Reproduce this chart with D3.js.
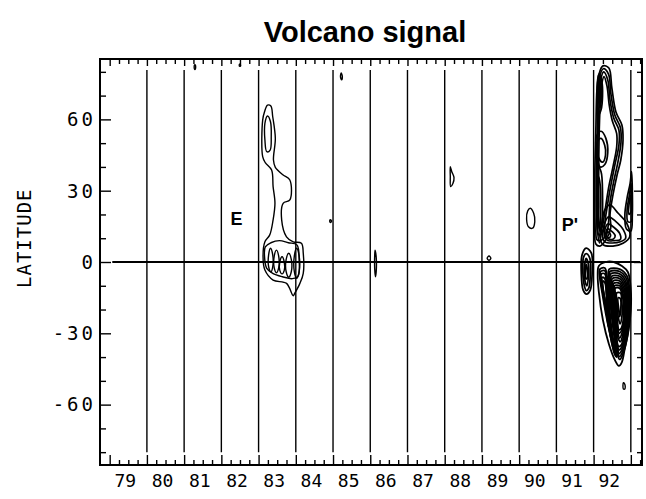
<!DOCTYPE html>
<html>
<head>
<meta charset="utf-8">
<script src="https://cdn.jsdelivr.net/npm/d3@7"></script>
<style>
  html, body { margin: 0; padding: 0; background: #fff; }
  svg { display: block; }
  .mono { font-family: "DejaVu Sans Mono", "Liberation Mono", monospace; fill: #000; }
</style>
</head>
<body>
<svg id="chart" width="646" height="499"></svg>
<script>
// ---- chart text ----
const chartTitle = "Volcano signal";
const yAxisTitle = "LATITUDE";

// ---- axes ----
const yearTicks = [1979, 1980, 1981, 1982, 1983, 1984, 1985, 1986, 1987, 1988, 1989, 1990, 1991, 1992, 1993];
const yearLabels = ["79", "80", "81", "82", "83", "84", "85", "86", "87", "88", "89", "90", "91", "92"];
const yearLines = [1980, 1981, 1982, 1983, 1984, 1985, 1986, 1987, 1988, 1989, 1990, 1991, 1992, 1993];
const latMajor = [60, 30, 0, -30, -60];
const latLabels = ["60", "30", "0", "-30", "-60"];
const latMinor = [80, 70, 50, 40, 20, 10, -10, -20, -40, -50, -70, -80];

// ---- eruption markers ----
const eruptionNames = ["E", "P'"];
const eruptionYears = [1982.41, 1991.36];
const eruptionLats = [18.5, 15.6];

// ---- contour lines, [year, latitude] ----
// El Chichon plume
const elChichon = [
  [[1983.24,66.0],[1983.33,65.6],[1983.38,61.1],[1983.45,52.0],[1983.40,42.9],[1983.45,39.8],[1983.66,36.6],
   [1983.84,34.5],[1983.84,26.1],[1983.66,24.7],[1983.62,17.7],[1983.75,10.6],[1983.93,8.5],[1984.15,7.9],
   [1984.20,3.7],[1984.20,-4.8],[1984.11,-9.0],[1983.97,-13.2],[1983.93,-14.2],[1983.75,-9.0],[1983.39,-7.6],
   [1983.17,-3.4],[1983.12,2.2],[1983.17,8.5],[1983.30,11.4],[1983.39,17.7],[1983.44,24.7],[1983.39,31.7],
   [1983.35,38.7],[1983.18,41.8],[1983.11,44.3],[1983.11,59.7],[1983.16,63.2]],
  [[1983.24,61.4],[1983.32,59.0],[1983.34,52.7],[1983.31,47.1],[1983.22,46.4],[1983.17,51.3],[1983.17,58.3]],
  [[1983.18,6.4],[1983.33,8.1],[1983.56,9.0],[1983.80,8.1],[1984.03,7.2],[1984.09,0.8],[1984.06,-5.9],
   [1983.91,-7.0],[1983.64,-6.2],[1983.38,-4.8],[1983.22,-2.7],[1983.16,2.2]],
  [[1983.32,5.8],[1983.38,3.0],[1983.38,-2.0],[1983.33,-4.1],[1983.27,-2.0],[1983.27,3.0]],
  [[1983.48,5.0],[1983.54,2.5],[1983.54,-2.5],[1983.48,-4.5],[1983.42,-2.5],[1983.42,2.5]],
  [[1983.63,2.2],[1983.69,0.0],[1983.69,-3.5],[1983.63,-5.0],[1983.57,-3.5],[1983.57,0.0]],
  [[1983.81,3.7],[1983.88,1.0],[1983.88,-4.0],[1983.81,-6.4],[1983.74,-4.0],[1983.74,1.0]],
  [[1984.02,5.8],[1984.09,2.5],[1984.09,-4.0],[1984.02,-6.9],[1983.96,-4.0],[1983.96,2.5]]
];

// isolated small cells
const smallCells = [
  [[1981.29,83.0],[1981.31,82.0],[1981.29,81.0],[1981.27,82.0]],
  [[1982.50,83.3],[1982.52,82.8],[1982.50,82.3],[1982.48,82.8]],
  [[1984.93,17.8],[1984.96,17.2],[1984.93,16.6],[1984.91,17.2]],
  [[1985.22,79.5],[1985.25,78.0],[1985.23,76.6],[1985.20,78.0]],
  [[1986.13,5.0],[1986.16,2.0],[1986.16,-4.0],[1986.14,-6.2],[1986.12,-3.0],[1986.12,3.0]],
  [[1988.15,40.1],[1988.19,38.0],[1988.25,35.5],[1988.22,33.0],[1988.16,31.7],[1988.15,36.0]],
  [[1989.19,2.5],[1989.24,1.6],[1989.19,0.7],[1989.14,1.6]],
  [[1990.30,22.6],[1990.39,20.5],[1990.42,17.0],[1990.36,14.2],[1990.25,14.8],[1990.20,18.0],[1990.23,21.5]],
  [[1992.80,-50.8],[1992.84,-51.5],[1992.84,-53.4],[1992.80,-53.4]]
];

// Pinatubo, northern column
const pinatuboNorth = [
  [[1992.25,82.5],[1992.41,81.6],[1992.49,73.2],[1992.60,63.1],[1992.76,57.6],[1992.79,51.3],[1992.73,42.9],
   [1992.63,36.6],[1992.52,28.2],[1992.44,19.8],[1992.46,14.3],[1992.33,9.3],[1992.17,6.7],[1992.06,7.6],
   [1992.03,17.7],[1992.03,34.5],[1992.06,55.5],[1992.09,72.4],[1992.14,78.7]],
  [[1992.26,81.3],[1992.40,79.0],[1992.465,70.7],[1992.57,61.8],[1992.72,56.5],[1992.735,50.2],[1992.65,41.8],
   [1992.535,33.5],[1992.44,25.0],[1992.40,16.5],[1992.33,11.0],[1992.16,9.0],[1992.085,9.5],[1992.07,19.0],
   [1992.07,35.0],[1992.10,55.5],[1992.115,72.4],[1992.16,78.0]],
  [[1992.27,80.0],[1992.38,76.6],[1992.44,68.2],[1992.54,60.6],[1992.68,55.5],[1992.68,49.2],[1992.57,40.8],
   [1992.44,30.3],[1992.33,19.8],[1992.25,12.6],[1992.14,11.4],[1992.11,21.9],[1992.11,42.9],[1992.14,63.9],
   [1992.19,76.6]],
  [[1992.28,78.0],[1992.36,74.0],[1992.42,66.0],[1992.50,59.5],[1992.62,54.0],[1992.62,48.5],[1992.52,40.0],
   [1992.40,31.0],[1992.30,21.0],[1992.22,14.5],[1992.16,14.0],[1992.14,25.0],[1992.14,45.0],[1992.17,64.0],
   [1992.22,75.0]],
  [[1992.14,79.0],[1992.22,76.0],[1992.24,70.0],[1992.20,64.0],[1992.14,62.0],[1992.10,68.0],[1992.10,75.0]],
  [[1992.15,77.0],[1992.20,74.0],[1992.21,69.0],[1992.17,65.0],[1992.13,69.0],[1992.13,74.0]],
  [[1992.16,75.0],[1992.18,71.0],[1992.16,67.0],[1992.145,71.0]],
  [[1992.08,53.0],[1992.20,55.0],[1992.33,52.0],[1992.38,46.0],[1992.30,41.0],[1992.18,40.0],[1992.09,45.0]],
  [[1992.11,51.0],[1992.20,52.0],[1992.30,49.0],[1992.32,45.0],[1992.24,42.0],[1992.13,44.0]],
  [[1992.12,40.0],[1992.20,38.0],[1992.24,28.0],[1992.22,15.0],[1992.16,8.0],[1992.10,14.0],[1992.09,28.0]],
  [[1992.13,36.0],[1992.18,32.0],[1992.19,22.0],[1992.16,13.0],[1992.12,20.0],[1992.11,30.0]],
  [[1993.02,38.0],[1993.04,30.0],[1993.04,20.0],[1993.00,13.0],[1992.88,14.0],[1992.84,20.0],[1992.90,27.0],[1992.98,33.0]],
  [[1993.01,33.0],[1993.02,25.0],[1993.01,17.0],[1992.92,17.0],[1992.90,22.0],[1992.96,28.0]],
  [[1993.00,28.0],[1993.00,21.0],[1992.95,20.0],[1992.95,24.0]],
  [[1992.44,24.0],[1992.66,20.5],[1992.89,16.3],[1992.97,10.6],[1992.79,7.9],[1992.52,6.7],[1992.26,7.2],
   [1992.17,10.6],[1992.22,16.3],[1992.30,21.9]],
  [[1992.40,19.0],[1992.60,17.0],[1992.80,13.5],[1992.86,10.0],[1992.72,8.5],[1992.50,8.0],[1992.30,8.5],
   [1992.24,11.0],[1992.28,15.5]],
  [[1992.38,16.0],[1992.55,14.5],[1992.70,12.0],[1992.72,9.5],[1992.55,9.0],[1992.38,9.0],[1992.29,11.0],[1992.31,14.0]],
  [[1992.37,14.0],[1992.48,13.0],[1992.58,11.0],[1992.52,9.6],[1992.40,9.8],[1992.33,11.5]],
  [[1992.37,12.6],[1992.44,12.0],[1992.45,10.6],[1992.38,10.3],[1992.345,11.5]]
];

// Pinatubo, equatorial cell
const pinatuboEquator = [
  [[1991.80,5.8],[1991.94,3.7],[1991.96,-4.8],[1991.91,-11.8],[1991.81,-13.5],[1991.72,-11.8],[1991.67,-4.8],[1991.69,2.9]],
  [[1991.80,3.5],[1991.90,1.5],[1991.91,-5.0],[1991.87,-11.0],[1991.80,-12.0],[1991.74,-9.0],[1991.71,-3.0],[1991.73,2.0]],
  [[1991.80,1.5],[1991.86,-1.0],[1991.86,-6.0],[1991.82,-10.0],[1991.77,-8.0],[1991.75,-3.0]],
  [[1991.80,-1.0],[1991.83,-3.0],[1991.82,-7.0],[1991.79,-7.0],[1991.78,-3.0]]
];

// Pinatubo, southern column
const pinatuboSouth = [
  [[1992.14,-1.7],[1992.33,0.0],[1992.54,0.0],[1992.76,-1.7],[1992.92,-4.2],[1993.00,-11.8],[1993.00,-20.2],
   [1992.94,-28.6],[1992.84,-36.2],[1992.76,-42.1],[1992.68,-43.7],[1992.57,-41.2],[1992.41,-34.5],
   [1992.25,-24.4],[1992.14,-12.6],[1992.11,-5.5]],
  [[1992.42,-3],[1992.70,-3],[1992.90,-6],[1992.97,-14],[1992.96,-24],[1992.90,-32],[1992.78,-39],[1992.70,-41],
   [1992.62,-38],[1992.55,-31],[1992.48,-22],[1992.43,-14],[1992.40,-7]],
  [[1992.44,-4],[1992.70,-4],[1992.88,-7],[1992.95,-14.5],[1992.94,-24],[1992.88,-31.5],[1992.77,-38],[1992.695,-39.8],
   [1992.625,-36.5],[1992.56,-30],[1992.495,-21.5],[1992.45,-13.5],[1992.42,-7]],
  [[1992.46,-5],[1992.70,-5],[1992.86,-8],[1992.93,-15],[1992.92,-24],[1992.86,-31],[1992.76,-37],[1992.69,-38.5],
   [1992.63,-35],[1992.57,-29],[1992.51,-21],[1992.47,-13]],
  [[1992.48,-6],[1992.70,-6],[1992.845,-9],[1992.91,-15.5],[1992.90,-24],[1992.84,-30.5],[1992.75,-36],[1992.68,-37],
   [1992.62,-33],[1992.565,-26],[1992.515,-18],[1992.49,-11]],
  [[1992.50,-7],[1992.70,-7],[1992.83,-10],[1992.89,-16],[1992.88,-24],[1992.82,-30],[1992.74,-35],[1992.67,-35.5],
   [1992.61,-31],[1992.56,-23],[1992.52,-15]],
  [[1992.52,-8],[1992.70,-8],[1992.815,-11],[1992.87,-16.5],[1992.86,-24],[1992.80,-29.5],[1992.72,-33.5],[1992.655,-32],
   [1992.60,-26.5],[1992.57,-19],[1992.54,-12]],
  [[1992.54,-9],[1992.70,-9],[1992.80,-12],[1992.85,-17],[1992.84,-24],[1992.78,-29],[1992.70,-32],[1992.64,-29],
   [1992.59,-22],[1992.56,-15]],
  [[1992.56,-10],[1992.70,-10],[1992.785,-13],[1992.83,-17.5],[1992.82,-24],[1992.76,-28.5],[1992.69,-30],[1992.635,-26],
   [1992.595,-19],[1992.58,-13]],
  [[1992.58,-11],[1992.70,-11],[1992.77,-14],[1992.81,-18],[1992.80,-24],[1992.74,-28],[1992.68,-28.5],[1992.63,-23],[1992.60,-16]],
  [[1992.62,-13],[1992.72,-13],[1992.76,-17],[1992.76,-23],[1992.71,-26],[1992.66,-23],[1992.63,-17]],
  [[1992.66,-15],[1992.72,-15.5],[1992.73,-20],[1992.70,-23],[1992.675,-20]],
  [[1992.17,-3],[1992.30,-2.5],[1992.36,-6],[1992.41,-15],[1992.46,-25],[1992.53,-33],[1992.62,-40],[1992.57,-39],
   [1992.45,-31],[1992.33,-22],[1992.23,-13],[1992.17,-7]],
  [[1992.19,-4],[1992.30,-3.7],[1992.355,-8],[1992.40,-16.5],[1992.45,-26],[1992.525,-33.5],[1992.595,-39.5],[1992.51,-35.5],
   [1992.41,-27.5],[1992.31,-18.5],[1992.225,-11],[1992.19,-7.5]],
  [[1992.21,-5],[1992.30,-5],[1992.35,-10],[1992.39,-18],[1992.44,-27],[1992.52,-34],[1992.47,-32],[1992.38,-24],
   [1992.29,-15],[1992.22,-9]],
  [[1992.23,-6.5],[1992.30,-7],[1992.35,-13],[1992.395,-21],[1992.44,-28],[1992.40,-27],[1992.34,-20],[1992.27,-13],
   [1992.235,-9.5]],
  [[1992.25,-8],[1992.31,-9],[1992.35,-16],[1992.40,-24],[1992.44,-29],[1992.39,-25],[1992.31,-17],[1992.26,-12]]
];

// ---- layout ----
const svg = d3.select("#chart");
const frame = { left: 100, right: 642, top: 59, bottom: 465 };

const x = d3.scaleLinear().domain([1978.74, 1993.30]).range([frame.left, frame.right]);
const y = d3.scaleLinear().domain([-85.4, 85.4]).range([frame.bottom, frame.top]);

// title
svg.append("text")
  .attr("x", 365).attr("y", 42)
  .attr("text-anchor", "middle")
  .style("font-family", "'Liberation Sans', Arial, Helvetica, sans-serif")
  .style("font-weight", "bold")
  .style("font-size", "29px")
  .text(chartTitle);

// year separator lines
svg.append("g").selectAll("line").data(yearLines).join("line")
  .attr("x1", d => x(d)).attr("x2", d => x(d))
  .attr("y1", y(80.8)).attr("y2", y(-80))
  .attr("stroke", "#000").attr("stroke-width", 1.4);

// equator
svg.append("line")
  .attr("x1", x(1979.07)).attr("x2", x(1993.25))
  .attr("y1", y(0)).attr("y2", y(0))
  .attr("stroke", "#000").attr("stroke-width", 2.2);

// contours
const contourLine = d3.line()
  .x(d => x(d[0])).y(d => y(d[1]))
  .curve(d3.curveCatmullRomClosed.alpha(0.5));

const contourGroups = [
  { lines: elChichon, width: 1.4 },
  { lines: smallCells, width: 1.4 },
  { lines: pinatuboNorth, width: 1.7 },
  { lines: pinatuboEquator, width: 1.8 },
  { lines: pinatuboSouth, width: 1.8 }
];
const gC = svg.append("g").attr("fill", "none").attr("stroke", "#000").attr("stroke-linejoin", "round");
contourGroups.forEach(group => {
  gC.append("g").attr("stroke-width", group.width)
    .selectAll("path").data(group.lines).join("path").attr("d", contourLine);
});

// frame ticks via d3 axes (ticks point inward)
function tickAxis(axisFn, scale, values, size, transform) {
  const g = svg.append("g").attr("transform", transform)
    .call(axisFn(scale).tickValues(values).tickSize(size).tickFormat(""));
  g.select(".domain").remove();
  g.selectAll("line").attr("stroke", "#000").attr("stroke-width", 1.4);
  return g;
}
const quarterTicks = d3.range(1979, 1993.3, 0.25).filter(v => !yearTicks.includes(v));

tickAxis(d3.axisBottom, x, yearTicks, -10, `translate(0,${frame.bottom})`);
tickAxis(d3.axisBottom, x, quarterTicks, -5, `translate(0,${frame.bottom})`);
tickAxis(d3.axisTop, x, yearTicks, -7, `translate(0,${frame.top})`);
tickAxis(d3.axisTop, x, quarterTicks, -5, `translate(0,${frame.top})`);
tickAxis(d3.axisLeft, y, latMajor, -11, `translate(${frame.left},0)`);
tickAxis(d3.axisLeft, y, latMinor, -6, `translate(${frame.left},0)`);
tickAxis(d3.axisRight, y, latMajor, -8, `translate(${frame.right},0)`);
tickAxis(d3.axisRight, y, latMinor, -5, `translate(${frame.right},0)`);

// frame
svg.append("rect")
  .attr("x", frame.left).attr("y", frame.top)
  .attr("width", frame.right - frame.left).attr("height", frame.bottom - frame.top)
  .attr("fill", "none").attr("stroke", "#000").attr("stroke-width", 2);

// year labels, centred within each year
svg.append("g").selectAll("text").data(yearLabels).join("text")
  .attr("class", "mono")
  .attr("x", (d, i) => x(yearTicks[i] + 0.42))
  .attr("y", 487)
  .attr("text-anchor", "middle")
  .style("font-size", "18px")
  .text(d => d);

// latitude labels
svg.append("g").selectAll("text").data(latLabels).join("text")
  .attr("class", "mono")
  .attr("x", 96)
  .attr("y", (d, i) => y(latMajor[i]))
  .attr("dy", "0.36em")
  .attr("text-anchor", "end")
  .style("font-size", "19px")
  .style("letter-spacing", "3px")
  .text(d => d);

// y axis title
svg.append("text")
  .attr("class", "mono")
  .attr("transform", `translate(31,${y(10)}) rotate(-90)`)
  .attr("text-anchor", "middle")
  .style("font-size", "19px")
  .style("letter-spacing", "1px")
  .text(yAxisTitle);

// eruption labels
svg.append("g").selectAll("text").data(eruptionNames).join("text")
  .attr("x", (d, i) => x(eruptionYears[i]))
  .attr("y", (d, i) => y(eruptionLats[i]))
  .attr("dy", "0.36em")
  .attr("text-anchor", "middle")
  .style("font-family", "'Liberation Sans', Arial, Helvetica, sans-serif")
  .style("font-weight", "bold")
  .style("font-size", "18px")
  .text(d => d);
</script>
</body>
</html>
